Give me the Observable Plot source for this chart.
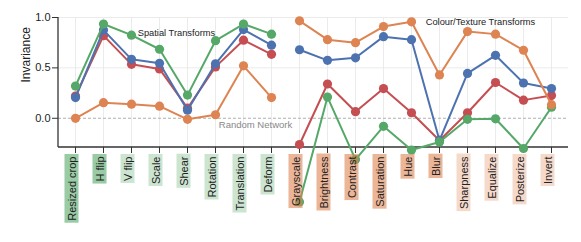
<!DOCTYPE html>
<html>
<head>
<meta charset="utf-8">
<script src="https://cdn.jsdelivr.net/npm/d3@7"></script>
<script src="https://cdn.jsdelivr.net/npm/@observablehq/plot@0.6"></script>
<style>
  html, body { margin: 0; padding: 0; background: #fff; }
</style>
</head>
<body>
<script>
const categories = ["Resized crop", "H flip", "V flip", "Scale", "Shear", "Rotation", "Translation", "Deform",
  "Grayscale", "Brightness", "Contrast", "Saturation", "Hue", "Blur", "Sharpness", "Equalize", "Posterize", "Invert"];
const groups = ["spatial","spatial","spatial","spatial","spatial","spatial","spatial","spatial",
  "colour","colour","colour","colour","colour","colour","colour","colour","colour","colour"];
const labelLevel = ["dark","dark","light","light","light","light","light","light",
  "dark","dark","dark","dark","dark","dark","light","light","light","light"];

const red    = [0.22, 0.82, 0.535, 0.49, 0.10, 0.51, 0.775, 0.635, -0.26, 0.34, 0.065, 0.295, 0.055, -0.22, 0.055, 0.355, 0.18, 0.225];
const blue   = [0.205, 0.875, 0.585, 0.545, 0.08, 0.54, 0.88, 0.725, 0.68, 0.575, 0.60, 0.81, 0.78, -0.22, 0.445, 0.625, 0.35, 0.295];
const green  = [0.32, 0.935, 0.825, 0.685, 0.23, 0.77, 0.935, 0.835, -0.83, 0.21, -0.41, -0.08, -0.315, -0.235, -0.01, -0.005, -0.30, 0.11];
const orange = [0.0, 0.155, 0.14, 0.12, -0.01, 0.035, 0.52, 0.205, 0.967, 0.78, 0.75, 0.91, 0.957, 0.43, 0.86, 0.835, 0.675, 0.135];

const seriesNames = ["red", "blue", "green", "orange"];
const seriesValues = [red, blue, green, orange];
const seriesColors = ["#c44e52", "#4c72b0", "#55a868", "#dd8452"];
const groupColors = {spatial: "#55a868", colour: "#dd8452"};
const levelOpacity = {dark: 0.6, light: 0.3};
const yTicks = [0, 0.5, 1.0];

const seriesMarks = seriesNames.flatMap((name, s) => {
  const data = categories.map((c, i) => ({cat: c, v: seriesValues[s][i], g: groups[i]}));
  return [
    Plot.line(data, {x: "cat", y: "v", z: "g", stroke: seriesColors[s], strokeWidth: 2}),
    Plot.dot(data, {x: "cat", y: "v", r: 4.6, fill: seriesColors[s]})
  ];
});

const frameLines = (index, scales, values, dims) => {
  const g = d3.create("svg:g").attr("stroke", "#333").attr("stroke-width", 1.3);
  const x0 = dims.marginLeft, x1 = dims.width - dims.marginRight;
  const y0 = dims.marginTop, y1 = dims.height - dims.marginBottom;
  g.append("line").attr("x1", x0).attr("x2", x0).attr("y1", y0).attr("y2", y1);
  g.append("line").attr("x1", x0).attr("x2", x1).attr("y1", y1).attr("y2", y1);
  return g.node();
};

const plot = Plot.plot({
  width: 581,
  height: 242,
  marginLeft: 58,
  marginRight: 13,
  marginTop: 17,
  marginBottom: 95,
  style: {fontFamily: "'Liberation Sans', Arial, sans-serif", color: "#222", background: "#fff"},
  x: {type: "point", domain: categories, padding: 0.5},
  y: {domain: [-0.29, 1.0]},
  marks: [
    Plot.ruleX(categories, {stroke: "#ebebeb", strokeWidth: 1}),
    Plot.ruleY([0.5, 1.0], {stroke: "#ebebeb", strokeWidth: 1}),
    Plot.ruleY([0], {stroke: "#b0b0b0", strokeWidth: 1.1, strokeDasharray: "3,2"}),
    Plot.axisY({ticks: yTicks, tickFormat: d3.format(".1f"), tickSize: 6, tickPadding: 2, fontSize: 11, label: null, stroke: "#333"}),
    Plot.axisX({tickSize: 6, tickFormat: () => "", label: null, stroke: "#333"}),
    frameLines,
    Plot.text(["Invariance"], {frameAnchor: "left", rotate: -90, dx: -32, fontSize: 12, fill: "#222"}),
    Plot.text(["Spatial Transforms"], {x: () => "Shear", y: () => 0.85, dx: -11, fontSize: 9.3, fill: "#222"}),
    Plot.text(["Colour/Texture Transforms"], {x: () => "Equalize", y: () => 0.957, dx: -15, fontSize: 9.3, fill: "#222"}),
    Plot.text(["Random Network"], {x: () => "Translation", y: () => -0.067, dx: 12, fontSize: 9.5, fill: "#888"}),
    ...seriesMarks,
    Plot.text(categories, {x: d => d, text: d => d, frameAnchor: "bottom", rotate: -90, textAnchor: "end", dy: 9, fontSize: 11, fill: "#222", className: "xlab"})
  ]
});

document.body.append(plot);

// label backgrounds (semi-transparent, drawn under the label text but over the series)
d3.select(plot).selectAll("g.xlab text").each(function() {
  const t = this;
  const name = t.textContent;
  const i = categories.indexOf(name);
  const bb = t.getBBox();
  const rect = document.createElementNS("http://www.w3.org/2000/svg", "rect");
  rect.setAttribute("x", bb.x - 2);
  rect.setAttribute("y", bb.y - 1);
  rect.setAttribute("width", bb.width + 4.5);
  rect.setAttribute("height", bb.height + 2);
  const tr = t.getAttribute("transform");
  if (tr) rect.setAttribute("transform", tr);
  rect.setAttribute("fill", groupColors[groups[i]]);
  rect.setAttribute("fill-opacity", levelOpacity[labelLevel[i]]);
  rect.setAttribute("stroke", "none");
  t.parentNode.insertBefore(rect, t);
});
</script>
</body>
</html>
